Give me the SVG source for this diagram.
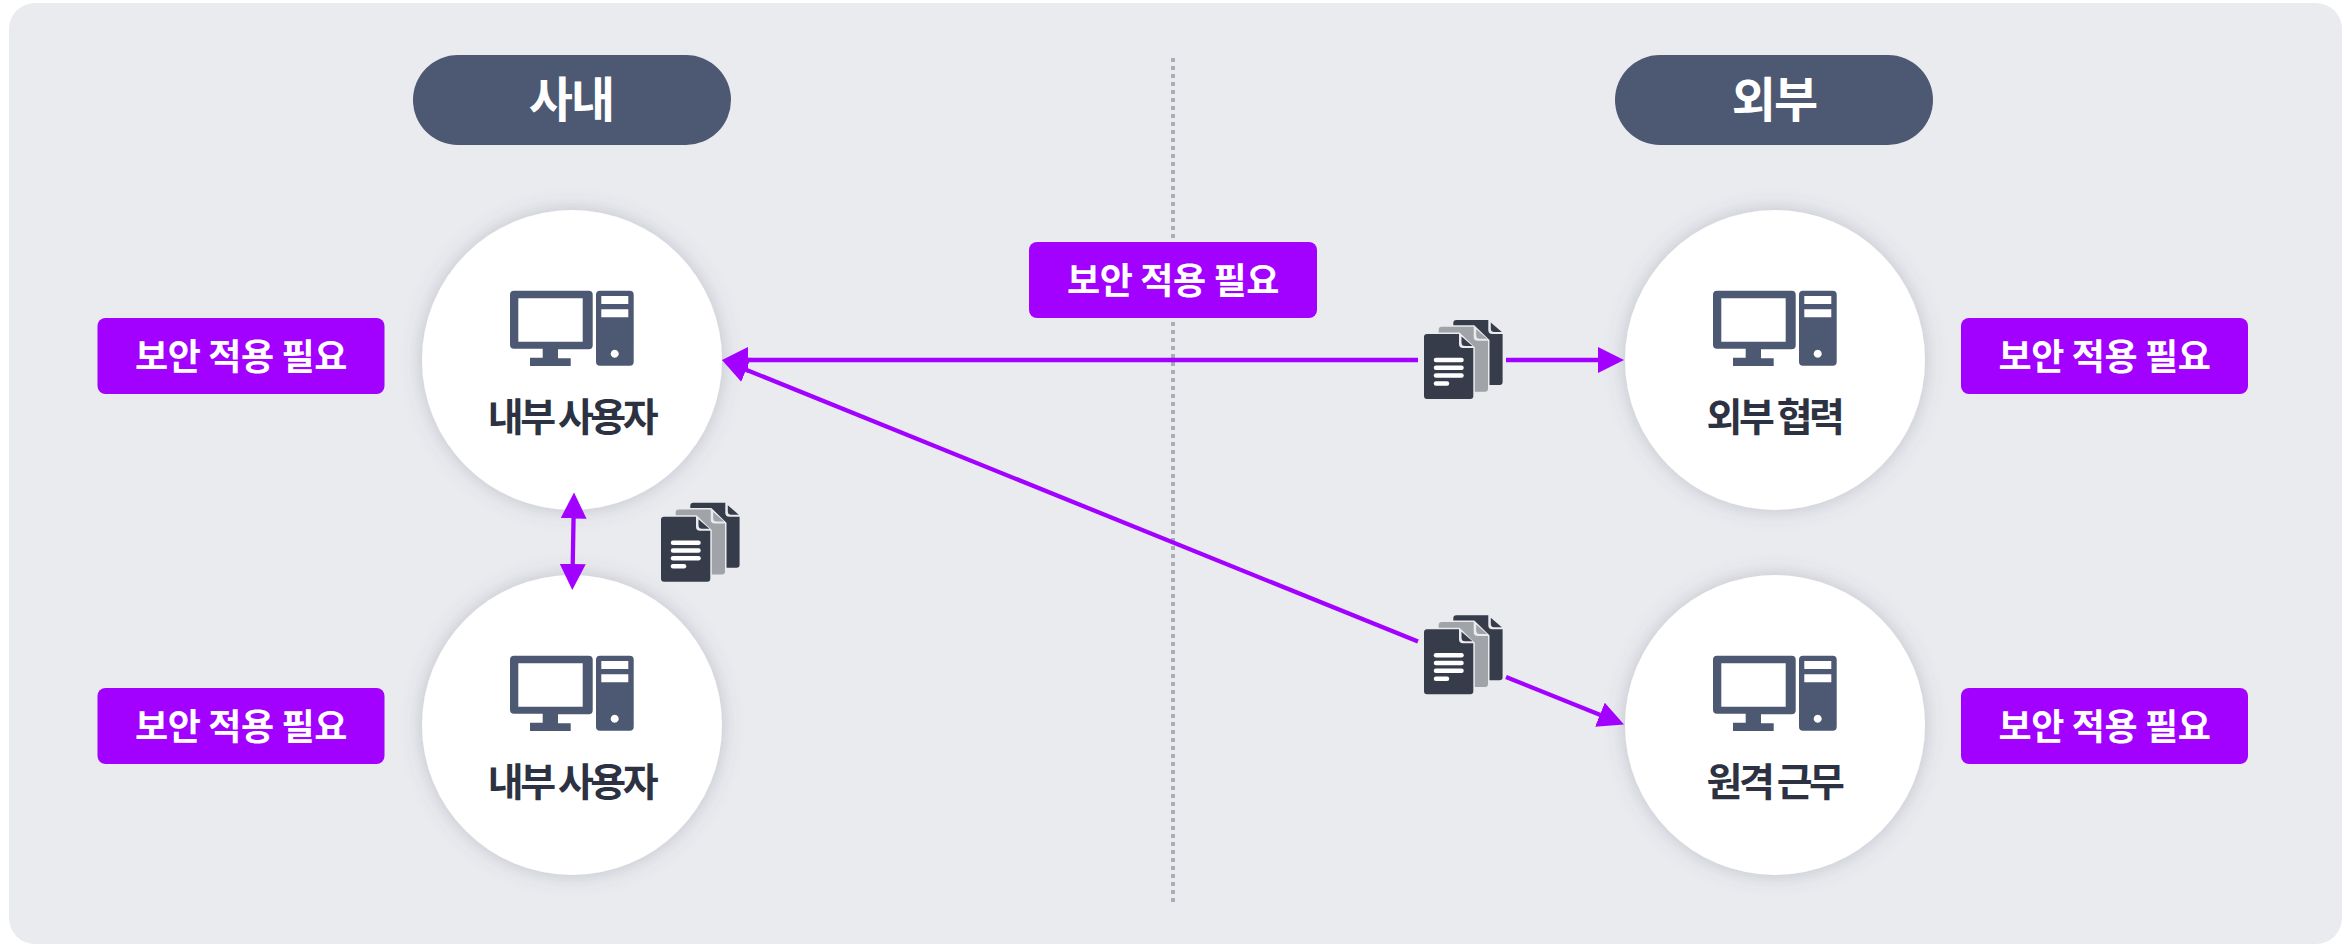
<svg xmlns="http://www.w3.org/2000/svg" width="2351" height="946" viewBox="0 0 2351 946">
<style>
text{font-family:"Noto Sans CJK KR","Noto Sans",sans-serif;text-anchor:middle}
.tag rect{fill:#a200ff}
.tag text{fill:#fff;font-size:36px;font-weight:700;letter-spacing:-.4px}
.pill rect{fill:#4d5872}
.pill text{fill:#fff;font-size:48px;font-weight:700;letter-spacing:-2px}
.node circle{fill:#fff;filter:url(#sh)}
.node text{fill:#2c3242;font-size:39px;font-weight:700;letter-spacing:-3.500px}
.ink{fill:#4d5872}
.con line{stroke:#a200ff;stroke-width:4.300;fill:none}
</style>
<defs>
<filter id="sh" x="-20%" y="-20%" width="140%" height="140%"><feDropShadow dx="0" dy="0" stdDeviation="10" flood-color="#5a6072" flood-opacity=".3"/></filter>
<marker id="ah" markerUnits="userSpaceOnUse" markerWidth="28" markerHeight="28" refX="14" refY="13" orient="auto-start-reverse"><path d="M0 0L26 13L0 26Z" fill="#a200ff"/></marker>
<g id="pc">
<path class="ink" fill-rule="evenodd" d="M-58-69.300h74.700a4 4 0 0 1 4 4v50.600a4 4 0 0 1-4 4H-14v9H-1.300v7.700H-42V-2.300H-29.300v-9H-58a4 4 0 0 1-4-4V-65.300a4 4 0 0 1 4-4ZM-53.700-61.700V-18.300H10.700V-61.700Z"/>
<path class="ink" fill-rule="evenodd" d="M28-69.300H57.700a4 4 0 0 1 4 4V1.700a4 4 0 0 1-4 4H28a4 4 0 0 1-4-4V-65.300a4 4 0 0 1 4-4ZM29.300-64V-56H56.300V-64ZM29.300-50.700V-42.700H56.300V-50.700ZM42.700-10.300a4 4 0 1 0 .01 0Z"/>
</g>
<g id="page">
<path fill="#e9ebef" stroke="#e9ebef" stroke-width="3" d="M3 0H35L49.300 14V62a3 3 0 0 1-3 3H3a3 3 0 0 1-3-3V3a3 3 0 0 1 3-3Z"/>
<path d="M3 0H35V10a4 4 0 0 0 4 4H49.300V62a3 3 0 0 1-3 3H3a3 3 0 0 1-3-3V3a3 3 0 0 1 3-3Z"/>
<path d="M37.500 2.500L48.500 12H41a3.500 3.500 0 0 1-3.500-3.500Z"/>
</g>
<g id="docs">
<use href="#page" x="29.300" y="-14" fill="#363c49"/>
<use href="#page" x="14.700" y="-7.300" fill="#a0a3a8"/>
<use href="#page" fill="#363c49"/>
<g stroke="#fff" stroke-width="4.500" stroke-linecap="round"><line x1="12" y1="26" x2="37.500" y2="26"/><line x1="12" y1="33.700" x2="37.500" y2="33.700"/><line x1="12" y1="41.500" x2="37.500" y2="41.500"/><line x1="12" y1="49.500" x2="23" y2="49.500"/></g>
</g>
</defs>
<rect id="bg" x="9" y="3" width="2333" height="941" rx="26" fill="#eaebef"/>
<line id="divider" x1="1173" y1="58" x2="1173" y2="902" stroke="#a9adb6" stroke-width="4" stroke-dasharray="4 4"/>
<g id="pill-in" class="pill"><rect x="413" y="55" width="318" height="90" rx="45"/><text x="571" y="117">사내</text></g>
<g id="pill-out" class="pill"><rect x="1615" y="55" width="318" height="90" rx="45"/><text x="1774" y="117">외부</text></g>
<g id="n1" class="node"><circle cx="572" cy="360" r="150"/><use href="#pc" x="572" y="360"/><text x="571.500" y="431.300">내부 사용자</text></g>
<g id="n2" class="node"><circle cx="572" cy="725" r="150"/><use href="#pc" x="572" y="725"/><text x="571.500" y="796.300">내부 사용자</text></g>
<g id="n3" class="node"><circle cx="1775" cy="360" r="150"/><use href="#pc" x="1775" y="360"/><text x="1774" y="431.300">외부 협력</text></g>
<g id="n4" class="node"><circle cx="1775" cy="725" r="150"/><use href="#pc" x="1775" y="725"/><text x="1774" y="796.300">원격 근무</text></g>
<g id="connectors" class="con">
<line x1="734" y1="360" x2="1418" y2="360" marker-start="url(#ah)"/>
<line x1="1506" y1="360" x2="1612" y2="360" marker-end="url(#ah)"/>
<line x1="733.100" y1="364.500" x2="1418" y2="641.500" marker-start="url(#ah)"/>
<line x1="1506" y1="677" x2="1612.900" y2="720" marker-end="url(#ah)"/>
<line x1="573.800" y1="504.500" x2="572.500" y2="578" marker-start="url(#ah)" marker-end="url(#ah)"/>
</g>
<use id="doc1" href="#docs" x="661" y="516.700"/>
<use id="doc2" href="#docs" x="1424" y="334"/>
<use id="doc3" href="#docs" x="1424" y="629.300"/>
<g id="t1" class="tag"><rect x="97.500" y="318" width="287" height="76" rx="8"/><text x="241" y="369.500">보안 적용 필요</text></g>
<g id="t2" class="tag"><rect x="97.500" y="688" width="287" height="76" rx="8"/><text x="241" y="739.500">보안 적용 필요</text></g>
<g id="t3" class="tag"><rect x="1029" y="242" width="288" height="76" rx="8"/><text x="1173" y="293.500">보안 적용 필요</text></g>
<g id="t4" class="tag"><rect x="1961" y="318" width="287" height="76" rx="8"/><text x="2104.500" y="369.500">보안 적용 필요</text></g>
<g id="t5" class="tag"><rect x="1961" y="688" width="287" height="76" rx="8"/><text x="2104.500" y="739.500">보안 적용 필요</text></g>
</svg>
